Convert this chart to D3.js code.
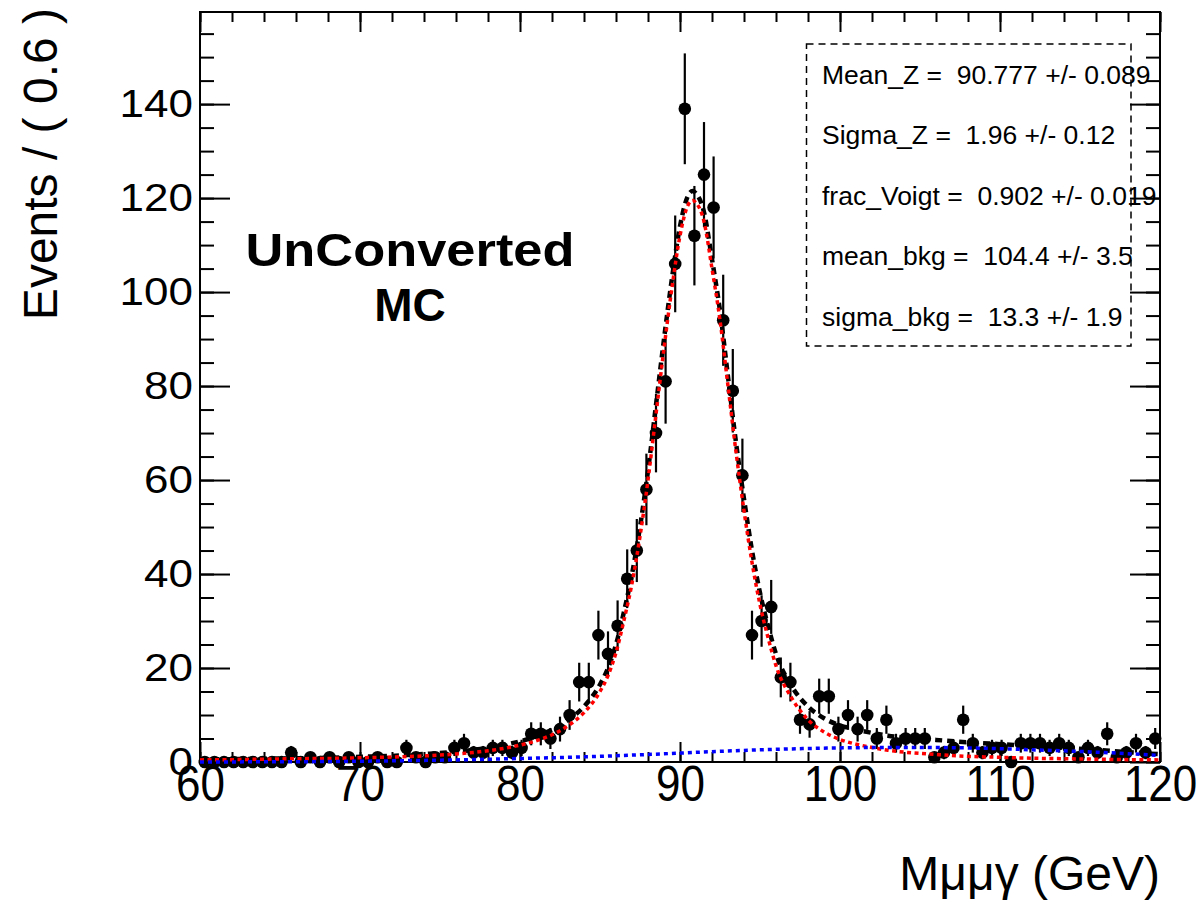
<!DOCTYPE html>
<html>
<head>
<meta charset="utf-8">
<script src="https://cdn.jsdelivr.net/npm/d3@7"></script>
<style>
body { margin: 0; background: #fff; }
text { font-family: "Liberation Sans", Arial, sans-serif; fill: #000; }
</style>
</head>
<body>
<div id="chart"></div>
<script>
// histogram binning (Events / 0.6 GeV)
var binLow = 60, binWidth = 0.6;

// events per bin
var counts = [
  0, 0, 0, 0, 0, 0, 0, 0, 0, 2,
  0, 1, 0, 1, 0, 1, 0, 0, 1, 0,
  0, 3, 1, 0, 1, 1, 3, 4, 2, 2,
  3, 3, 2, 3, 6, 6, 5, 7, 10, 17,
  17, 27, 23, 29, 39, 45, 58, 70, 81, 106,
  139, 112, 125, 118, 94, 79, 61, 27, 30, 33,
  18, 17, 9, 8, 14, 14, 7, 10, 7, 10,
  5, 9, 4, 5, 5, 5, 1, 2, 3, 9,
  4, 2, 3, 3, 0, 4, 4, 4, 3, 4,
  3, 1, 3, 2, 6, 1, 2, 4, 2, 5
];

// fit curves, sampled off the plot
var curveX = [60, 62, 64, 66, 68, 70, 72, 74, 76, 78,
  79, 80, 81, 82, 83, 84, 85,
  85.5, 86, 86.5, 87, 87.5, 88, 88.5, 89, 89.5, 90, 90.5,
  90.8,
  91, 91.5, 92, 92.5, 93, 93.5, 94, 94.5, 95, 95.5, 96,
  97, 98, 99, 100, 101, 102, 103, 104,
  106, 108, 110, 112, 114, 116, 118, 120];
var totalFit = [0.5, 0.6, 0.7, 0.8, 0.9, 1.1, 1.3, 1.7, 2.2, 3.0,
  3.6, 4.4, 5.4, 6.9, 8.9, 11.8, 16.5,
  20, 25, 32, 40, 50, 62, 76, 90, 103, 114, 120.5,
  121.5,
  121, 117, 107, 96, 82, 68, 56, 45, 36, 29, 23,
  16, 11.8, 9.3, 7.8, 6.9, 6.2, 5.6, 5.2,
  4.7, 4.2, 3.8, 3.4, 3.0, 2.6, 2.1, 1.65];
var signalFit = [0.45, 0.5, 0.6, 0.7, 0.75, 0.9, 1.05, 1.3, 1.7, 2.4,
  2.9, 3.6, 4.5, 5.8, 7.7, 10.5, 15,
  18.4, 23.3, 30.2, 38, 48, 60, 74, 88, 101, 112, 118.5,
  119.5,
  119, 115, 105, 94, 80, 66, 53.5, 42.5, 33.5, 26.5, 20.5,
  13.5, 9, 6.4, 4.8, 3.8, 3.1, 2.5, 2.1,
  1.6, 1.2, 1.0, 0.8, 0.7, 0.6, 0.5, 0.45];
var bkgX = [60, 64, 68, 72, 76, 80, 84, 88, 92, 96, 100, 104, 108, 112, 116, 120];
var bkgFit = [0.01, 0.04, 0.1, 0.25, 0.45, 0.75, 1.1, 1.6, 2.2, 2.7, 3.0, 3.1, 3.0, 2.6, 2.1, 1.4];

// axis ticks
var xMajor = [60, 70, 80, 90, 100, 110, 120];
var yMajor = [0, 20, 40, 60, 80, 100, 120, 140];

var statsLines = [
  "Mean_Z =  90.777 +/- 0.089",
  "Sigma_Z =  1.96 +/- 0.12",
  "frac_Voigt =  0.902 +/- 0.019",
  "mean_bkg =  104.4 +/- 3.5",
  "sigma_bkg =  13.3 +/- 1.9"
];

var W = 1203, H = 901;
var padL = 200, padR = 1160, padT = 12, padB = 762;

var svg = d3.select("#chart").append("svg")
    .attr("width", W)
    .attr("height", H);

svg.append("rect").attr("width", W).attr("height", H).attr("fill", "#fff");

var x = d3.scaleLinear().domain([60, 120]).range([padL, padR]);
var y = d3.scaleLinear().domain([0, 159.6]).range([padB, padT]);

var xMinor = d3.range(60, 121, 2);
var yMinor = d3.range(0, 159, 5);

function cleanAxis(g) {
    g.select(".domain").remove();
    g.selectAll(".tick line").attr("stroke", "#000").attr("stroke-width", 2);
}

// bottom axis
svg.append("g").attr("transform", "translate(0," + padB + ")")
    .call(d3.axisBottom(x).tickValues(xMinor).tickSize(-10).tickFormat(""))
    .call(cleanAxis);
var xg = svg.append("g").attr("transform", "translate(0," + padB + ")")
    .call(d3.axisBottom(x).tickValues(xMajor).tickSizeInner(-20).tickSizeOuter(0).tickPadding(3))
    .call(cleanAxis);
xg.selectAll(".tick text")
    .attr("font-size", 44)
    .attr("font-family", "Liberation Sans, Arial, sans-serif")
    .attr("transform", "scale(1,1.14)");

// top axis
svg.append("g").attr("transform", "translate(0," + padT + ")")
    .call(d3.axisTop(x).tickValues(xMinor).tickSize(-10).tickFormat(""))
    .call(cleanAxis);
svg.append("g").attr("transform", "translate(0," + padT + ")")
    .call(d3.axisTop(x).tickValues(xMajor).tickSize(-20).tickFormat(""))
    .call(cleanAxis);

// left axis
svg.append("g").attr("transform", "translate(" + padL + ",0)")
    .call(d3.axisLeft(y).tickValues(yMinor).tickSize(-14).tickFormat(""))
    .call(cleanAxis);
var yg = svg.append("g").attr("transform", "translate(" + padL + ",0)")
    .call(d3.axisLeft(y).tickValues(yMajor).tickSizeInner(-30).tickSizeOuter(0).tickPadding(7))
    .call(cleanAxis);
yg.selectAll(".tick text")
    .attr("font-size", 44)
    .attr("font-family", "Liberation Sans, Arial, sans-serif")
    .attr("transform", "scale(1,0.88)");

// right axis
svg.append("g").attr("transform", "translate(" + padR + ",0)")
    .call(d3.axisRight(y).tickValues(yMinor).tickSize(-14).tickFormat(""))
    .call(cleanAxis);
svg.append("g").attr("transform", "translate(" + padR + ",0)")
    .call(d3.axisRight(y).tickValues(yMajor).tickSize(-30).tickFormat(""))
    .call(cleanAxis);

// frame
svg.append("rect")
    .attr("x", padL).attr("y", padT)
    .attr("width", padR - padL).attr("height", padB - padT)
    .attr("fill", "none").attr("stroke", "#000").attr("stroke-width", 2);

// data points with sqrt(N) errors
var bins = counts.map(function (c, i) {
    return { x: binLow + binWidth * (i + 0.5), n: c };
});

var plot = svg.append("g");

plot.selectAll(".err")
    .data(bins.filter(function (d) { return d.n > 0; }))
    .enter().append("line")
    .attr("class", "err")
    .attr("x1", function (d) { return x(d.x); })
    .attr("x2", function (d) { return x(d.x); })
    .attr("y1", function (d) { return y(d.n + Math.sqrt(d.n)); })
    .attr("y2", function (d) { return y(Math.max(0, d.n - Math.sqrt(d.n))); })
    .attr("stroke", "#000").attr("stroke-width", 2.2);

plot.selectAll(".pt")
    .data(bins)
    .enter().append("circle")
    .attr("class", "pt")
    .attr("cx", function (d) { return x(d.x); })
    .attr("cy", function (d) { return y(d.n); })
    .attr("r", 6.3)
    .attr("fill", "#000");

// fit curves
var line = d3.line()
    .x(function (d) { return x(d[0]); })
    .y(function (d) { return y(d[1]); })
    .curve(d3.curveMonotoneX);

plot.append("path")
    .datum(d3.zip(curveX, totalFit))
    .attr("d", line)
    .attr("fill", "none").attr("stroke", "#000")
    .attr("stroke-width", 4.5).attr("stroke-dasharray", "7,5");

plot.append("path")
    .datum(d3.zip(curveX, signalFit))
    .attr("d", line)
    .attr("fill", "none").attr("stroke", "#f00")
    .attr("stroke-width", 3.5).attr("stroke-dasharray", "4,3.5");

plot.append("path")
    .datum(d3.zip(bkgX, bkgFit))
    .attr("d", line)
    .attr("fill", "none").attr("stroke", "#00f")
    .attr("stroke-width", 3.5).attr("stroke-dasharray", "4,4");

// parameter box
svg.append("rect")
    .attr("x", 806.5).attr("y", 44)
    .attr("width", 324.5).attr("height", 302)
    .attr("fill", "none").attr("stroke", "#000")
    .attr("stroke-width", 1.5).attr("stroke-dasharray", "7,5");

svg.selectAll(".stat")
    .data(statsLines)
    .enter().append("text")
    .attr("class", "stat")
    .attr("x", 822)
    .attr("y", function (d, i) { return 83.5 + i * 60.5; })
    .attr("font-size", 26.5)
    .style("white-space", "pre")
    .text(function (d) { return d; });

// labels
svg.append("text")
    .attr("x", 410).attr("y", 266)
    .attr("text-anchor", "middle")
    .attr("font-family", "Lato, sans-serif")
    .attr("font-weight", 900)
    .attr("font-size", 46)
    .attr("textLength", 329).attr("lengthAdjust", "spacingAndGlyphs")
    .text("UnConverted");
svg.append("text")
    .attr("x", 410).attr("y", 321)
    .attr("text-anchor", "middle")
    .attr("font-family", "Lato, sans-serif")
    .attr("font-weight", 900)
    .attr("font-size", 46)
    .text("MC");

// axis titles
svg.append("text")
    .attr("x", 1160).attr("y", 890)
    .attr("text-anchor", "end")
    .attr("font-size", 48)
    .text("Mμμγ (GeV)");

svg.append("text")
    .attr("transform", "translate(57,8) rotate(-90)")
    .attr("text-anchor", "end")
    .attr("font-size", 48)
    .style("white-space", "pre")
    .text("Events / ( 0.6 )");
</script>
</body>
</html>
